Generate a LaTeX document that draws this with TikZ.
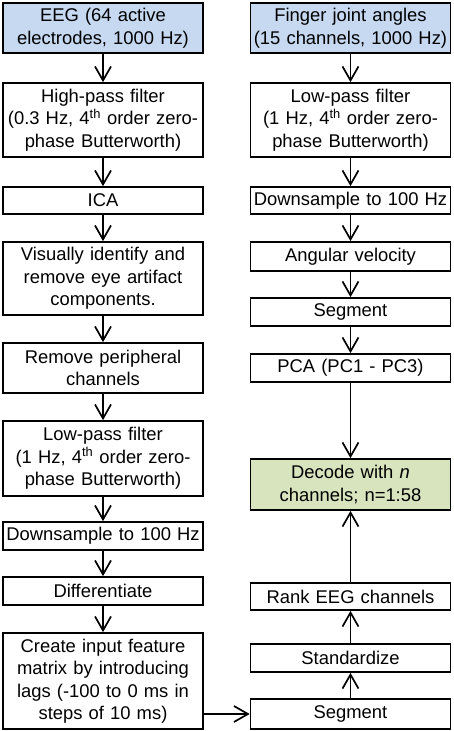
\documentclass[tikz,border=0pt]{standalone}
\usepackage{fontspec}
\setmainfont{Liberation Sans}
\usetikzlibrary{arrows.meta}
\definecolor{inblue}{RGB}{198,217,241}
\definecolor{outgreen}{RGB}{215,228,189}
\begin{document}
\begin{tikzpicture}[x=1pt,y=-1pt,
  box/.style={draw=black, line width=1.7pt, rectangle, inner sep=0pt,
    minimum width=200pt, text width=200pt, align=center,
    font=\fontsize{18.4}{22.5}\selectfont},
  arr/.style={line width=1.7pt, -{Straight Barb[length=14pt,width=16pt,line width=1.7pt]}}]
\useasboundingbox (0,0) rectangle (454,731);
% left column
\node[box, fill=inblue, minimum height=50pt] (eeg) at (103,28) {EEG (64 active\\electrodes, 1000 Hz)};
\node[box, minimum height=74pt] (hp) at (103,120) {High-pass filter\\(0.3 Hz, 4\textsuperscript{th} order zero-\\phase Butterworth)};
\node[box, minimum height=27pt] (ica) at (103,200.5) {ICA};
\node[box, minimum height=73pt] (vis) at (103,278.5) {Visually identify and\\remove eye artifact\\components.};
\node[box, minimum height=50pt] (rem) at (103,368) {Remove peripheral\\channels};
\node[box, minimum height=75pt] (lpl) at (103,458.5) {Low-pass filter\\(1 Hz, 4\textsuperscript{th} order zero-\\phase Butterworth)};
\node[box, minimum height=28pt] (dsl) at (103,536) {Downsample to 100 Hz};
\node[box, minimum height=28pt] (dif) at (103,591) {Differentiate};
\node[box, minimum height=96pt] (cre) at (103,681) {Create input feature\\matrix by introducing\\lags (-100 to 0 ms in\\steps of 10 ms)};
% right column
\node[box, fill=inblue, minimum height=50pt] (fin) at (350.5,28) {Finger joint angles\\(15 channels, 1000 Hz)};
\node[box, minimum height=74pt] (lpr) at (350.5,120) {Low-pass filter\\(1 Hz, 4\textsuperscript{th} order zero-\\phase Butterworth)};
\node[box, minimum height=27pt] (dsr) at (350.5,200.5) {Downsample to 100 Hz};
\node[box, minimum height=29pt] (ang) at (350.5,256.5) {Angular velocity};
\node[box, minimum height=28pt] (seg) at (350.5,312) {Segment};
\node[box, minimum height=28pt] (pca) at (350.5,368) {PCA (PC1 - PC3)};
\node[box, fill=outgreen, minimum height=51pt] (dec) at (350.5,484.5) {Decode with \textit{n}\\channels; n=1:58};
\node[box, minimum height=27pt] (rnk) at (350.5,596.5) {Rank EEG channels};
\node[box, minimum height=28pt] (std) at (350.5,658) {Standardize};
\node[box, minimum height=30pt] (sg2) at (350.5,714) {Segment};
% arrows left
\draw[arr] (eeg) -- (hp);
\draw[arr] (hp) -- (ica);
\draw[arr] (ica) -- (vis);
\draw[arr] (vis) -- (rem);
\draw[arr] (rem) -- (lpl);
\draw[arr] (lpl) -- (dsl);
\draw[arr] (dsl) -- (dif);
\draw[arr] (dif) -- (cre);
% arrows right
\draw[arr] (fin) -- (lpr);
\draw[arr] (lpr) -- (dsr);
\draw[arr] (dsr) -- (ang);
\draw[arr] (ang) -- (seg);
\draw[arr] (seg) -- (pca);
\draw[arr] (pca) -- (dec);
\draw[arr] (sg2) -- (std);
\draw[arr] (std) -- (rnk);
\draw[arr] (rnk) -- (dec);
\draw[arr] (cre.east |- sg2.west) -- (sg2.west);
\end{tikzpicture}
\end{document}
